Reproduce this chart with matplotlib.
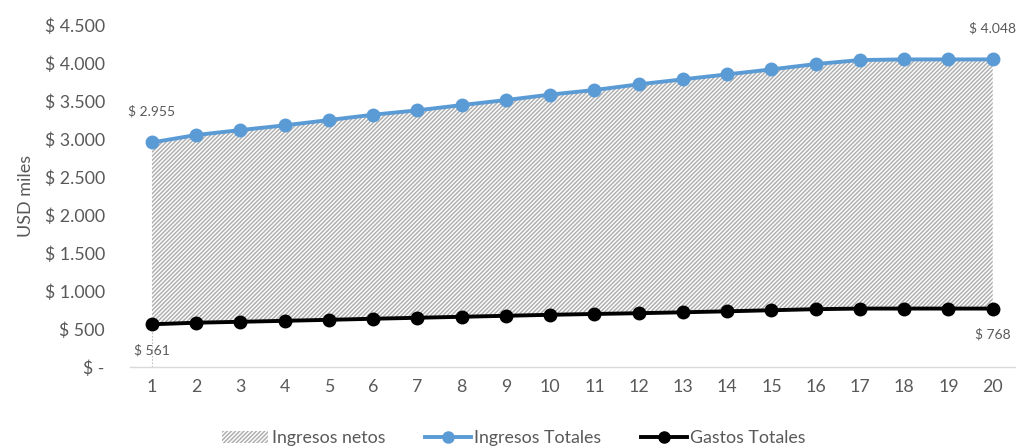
import matplotlib
matplotlib.use("Agg")
import matplotlib.pyplot as plt
from matplotlib.patches import Patch
from matplotlib.lines import Line2D

# Años del horizonte de evaluación
periodos = list(range(1, 21))

# Ingresos totales anuales (USD miles)
ingresos_totales = [2955, 3053, 3118, 3180, 3250, 3320, 3378, 3447, 3513, 3585,
                    3645, 3720, 3786, 3851, 3917, 3987, 4040, 4048, 4048, 4048]

# Gastos totales anuales (USD miles)
gastos_totales = [561, 582, 594, 607, 620, 634, 647, 660, 673, 686,
                  697, 707, 719, 732, 746, 760, 768, 768, 768, 768]

y_ticks = [0, 500, 1000, 1500, 2000, 2500, 3000, 3500, 4000, 4500]
y_tick_labels = ["$ -", "$ 500", "$ 1.000", "$ 1.500", "$ 2.000", "$ 2.500",
                 "$ 3.000", "$ 3.500", "$ 4.000", "$ 4.500"]

AZUL = "#5B9BD5"
GRIS_TEXTO = "#595959"
GRIS_TRAMA = "#b0b0b0"

plt.rcParams["font.family"] = ["Lato", "DejaVu Sans"]
plt.rcParams["hatch.linewidth"] = 1.1
plt.rcParams["hatch.color"] = GRIS_TRAMA

fig = plt.figure(figsize=(10.22, 4.48), dpi=100)
ax = fig.add_axes([0.127, 0.181, 0.866, 0.763])

# Área de ingresos netos entre gastos e ingresos
ax.fill_between(periodos, gastos_totales, ingresos_totales, facecolor="white",
                edgecolor=GRIS_TRAMA, hatch="////////", linewidth=0, zorder=1)

ax.plot(periodos, ingresos_totales, color=AZUL, lw=2.8, marker="o", ms=9,
        zorder=3)
ax.plot(periodos, gastos_totales, color="black", lw=2.8, marker="o", ms=9,
        zorder=3)

# Línea guía punteada bajo el primer punto de gastos
ax.plot([periodos[0], periodos[0]], [0, gastos_totales[0]], color="#bfbfbf",
        lw=0.8, ls=(0, (1.5, 1.5)), zorder=0)

# Etiquetas de valores extremos
def fmt(v):
    return "$ " + f"{v:,}".replace(",", ".")

lab = dict(fontsize=10, color=GRIS_TEXTO, ha="center")
ax.annotate(fmt(ingresos_totales[0]), (periodos[0], ingresos_totales[0]),
            xytext=(0, 18), textcoords="offset points", va="bottom", **lab)
ax.annotate(fmt(ingresos_totales[-1]), (periodos[-1], ingresos_totales[-1]),
            xytext=(0, 18), textcoords="offset points", va="bottom", **lab)
ax.annotate(fmt(gastos_totales[0]), (periodos[0], gastos_totales[0]),
            xytext=(0, -14), textcoords="offset points", va="top", **lab)
ax.annotate(fmt(gastos_totales[-1]), (periodos[-1], gastos_totales[-1]),
            xytext=(0, -14), textcoords="offset points", va="top", **lab)

ax.set_xlim(0.5, 20.5)
ax.set_ylim(0, 4500)
ax.set_xticks(periodos)
ax.set_xticklabels([str(p) for p in periodos])
ax.set_yticks(y_ticks)
ax.set_yticklabels(y_tick_labels)
ax.tick_params(axis="both", length=0, labelsize=12.8, labelcolor=GRIS_TEXTO)
ax.tick_params(axis="x", pad=9)
ax.tick_params(axis="y", pad=18)
for lbl in ax.get_yticklabels():
    lbl.set_horizontalalignment("right")

for s in ["top", "right", "left"]:
    ax.spines[s].set_visible(False)
ax.spines["bottom"].set_color("#d9d9d9")
ax.spines["bottom"].set_linewidth(1)

ax.set_ylabel("USD miles", fontsize=13, color=GRIS_TEXTO)
ax.yaxis.set_label_coords(-0.125, 0.5)
ax.yaxis.label.set_position((0, 0.5))
ax.yaxis.set_label_coords(-0.108, 0.5)

handles = [
    Patch(facecolor="white", edgecolor=GRIS_TRAMA, hatch="////////", linewidth=0,
          label="Ingresos netos"),
    Line2D([], [], color=AZUL, lw=2.8, marker="o", ms=8, label="Ingresos Totales"),
    Line2D([], [], color="black", lw=2.8, marker="o", ms=8, label="Gastos Totales"),
]
leg = fig.legend(handles=handles, loc="center", bbox_to_anchor=(0.503, 0.022),
                 ncol=3, frameon=False, fontsize=12.8, handlelength=2.6,
                 handletextpad=0.2, columnspacing=2.2)
for t in leg.get_texts():
    t.set_color(GRIS_TEXTO)

fig.savefig("out.png", dpi=100)
